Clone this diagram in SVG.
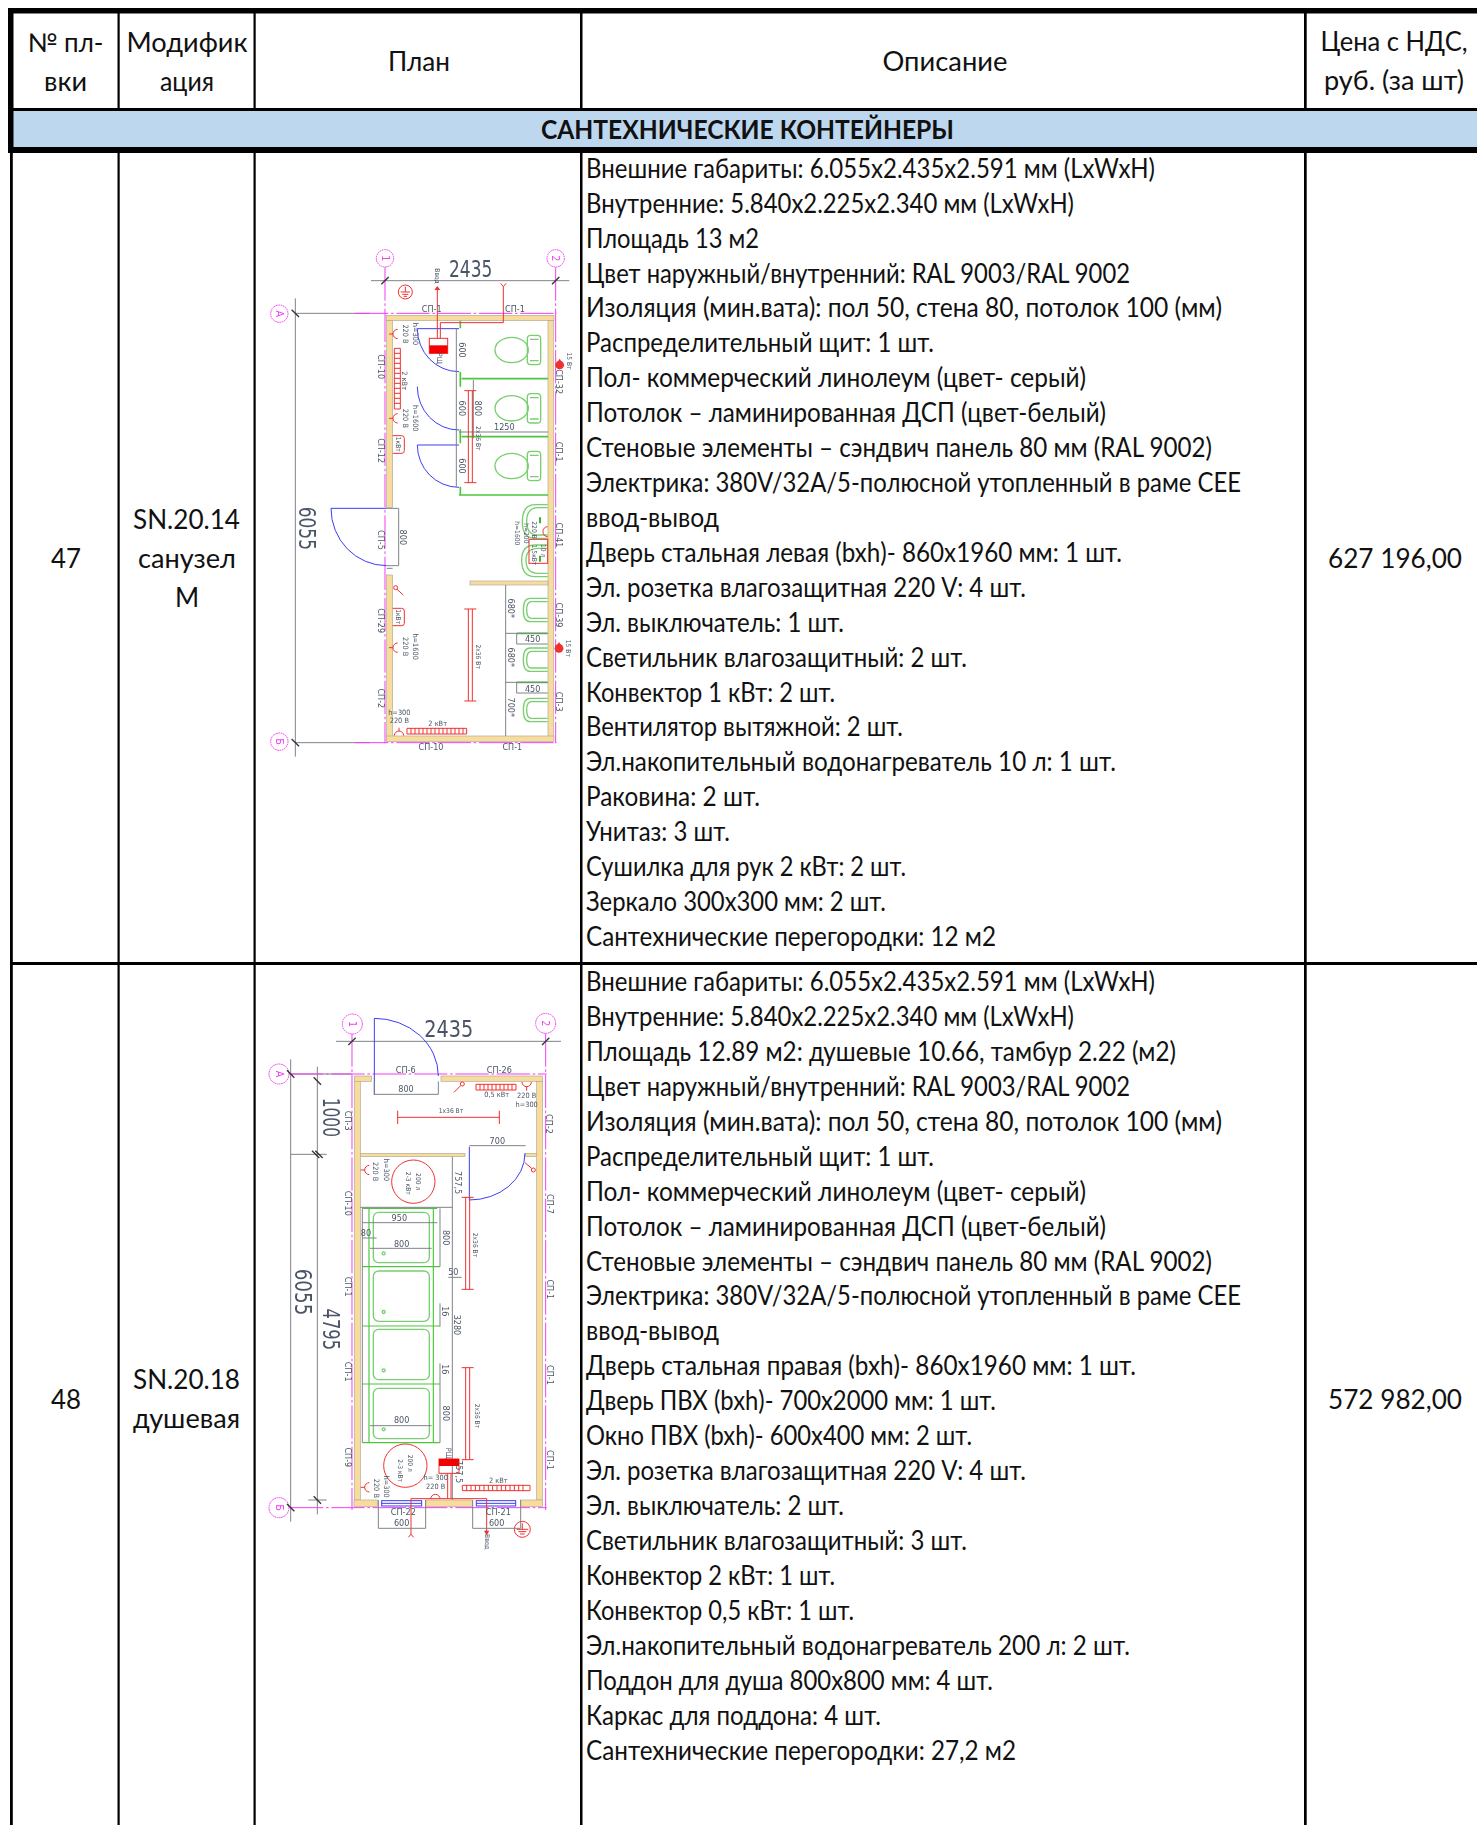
<svg xmlns="http://www.w3.org/2000/svg" xmlns:xlink="http://www.w3.org/1999/xlink" width="1477" height="1825" viewBox="0 0 1477 1825">
<style>
.t{font-family:"Lato","Open Sans","Noto Sans",sans-serif;font-size:26px;fill:#111}
.c{text-anchor:middle}
.b{font-weight:700}
.d{font-family:"DejaVu Sans Condensed","DejaVu Sans",sans-serif;fill:#4a5566;text-anchor:middle;dominant-baseline:central;font-size:27px}
.s{font-size:22px}
.xs{font-size:20px}
.xl{font-size:68px}
.ax{stroke:#f23cf2;stroke-width:3;stroke-dasharray:100 8 8 8;fill:none}
.ci{stroke:#f23cf2;stroke-width:3;stroke-dasharray:5 2;fill:#fff}
.g{stroke:#7f8489;stroke-width:3;fill:none}
.k{stroke:#333;stroke-width:4;fill:none}
.w{fill:#f7dc9d;stroke:#b0aa98;stroke-width:2}
.r{stroke:#f0302f;stroke-width:3;fill:none}
.bl{stroke:#3a3df0;stroke-width:3;fill:none}
.gn{stroke:#4cc63c;stroke-width:5;fill:none}
.gn2{stroke:#4cc63c;stroke-width:3.500;fill:none}
.gl{stroke:#79cf6f;stroke-width:4;fill:none}
.m{font-family:"DejaVu Sans Condensed","DejaVu Sans",sans-serif;fill:#f23cf2;text-anchor:middle;dominant-baseline:central;font-size:32px}
</style>
<defs>
<filter id="soft" x="-5%" y="-5%" width="110%" height="110%"><feGaussianBlur stdDeviation="1.100"/></filter>
<g id="toilet"><ellipse cx="-47" cy="0" rx="50" ry="38" class="gl"/><rect x="0" y="-44" width="40" height="88" rx="10" class="gl"/><path d="M8 -32H34M8 32H34" class="gl"/></g>
<g id="urinal"><path d="M73 -35H20Q0 -35 0 0Q0 35 20 35H73" class="gl"/><path d="M73 -25H25Q10 -25 10 0Q10 25 25 25H73" class="gl"/></g>
<g id="tray"><rect x="0" y="0" width="168" height="151" rx="16" class="gl"/><circle cx="31" cy="123" r="4.500" class="gl"/></g>
<g id="lamp"><path d="M-6 0V276M6 0V276M-18 0H18M-18 276H18" class="r"/></g>
<g id="tick"><path d="M-11 11L11 -11" class="k"/></g>
<g id="sock"><path d="M0 -14A14 14 0 0 1 0 14M14 0H26" class="r"/></g>
<g id="drop"><circle cx="0" cy="3" r="13" fill="#f0302f"/><path d="M-14 6L0 -16L14 6Z" fill="#f0302f"/></g>
</defs>

<g id="table">
<rect x="13" y="111" width="1464" height="36" fill="#bdd7ee"/>
<g fill="#000">
<rect x="8" y="8" width="1469" height="5.500"/>
<rect x="8" y="8" width="5.500" height="145"/>
<rect x="8" y="108" width="1469" height="3"/>
<rect x="8" y="147" width="1469" height="6"/>
<rect x="10" y="153" width="2.800" height="1672"/>
<rect x="117.500" y="13" width="2.200" height="95"/><rect x="117.500" y="153" width="2.200" height="1672"/>
<rect x="253.500" y="13" width="2.200" height="95"/><rect x="253.500" y="153" width="2.200" height="1672"/>
<rect x="580" y="13" width="2.500" height="95"/><rect x="580" y="153" width="2.500" height="1672"/>
<rect x="1304" y="13" width="2.700" height="95"/><rect x="1304" y="153" width="2.700" height="1672"/>
<rect x="10" y="962" width="1467" height="3"/>
</g>
<g class="t">
<text class="c" x="65.500" y="52" textLength="76" lengthAdjust="spacingAndGlyphs">№ пл-</text>
<text class="c" x="65.500" y="91" textLength="43" lengthAdjust="spacingAndGlyphs">вки</text>
<text class="c" x="187" y="52" textLength="121" lengthAdjust="spacingAndGlyphs">Модифик</text>
<text class="c" x="187" y="91" textLength="54" lengthAdjust="spacingAndGlyphs">ация</text>
<text class="c" x="419" y="70.500" textLength="62" lengthAdjust="spacingAndGlyphs">План</text>
<text class="c" x="945" y="70.500" textLength="125" lengthAdjust="spacingAndGlyphs">Описание</text>
<text class="c" x="1394" y="51" textLength="147" lengthAdjust="spacingAndGlyphs">Цена с НДС,</text>
<text class="c" x="1394" y="90" textLength="140" lengthAdjust="spacingAndGlyphs">руб. (за шт)</text>
<text class="c b" x="747.500" y="139" textLength="413" lengthAdjust="spacingAndGlyphs">САНТЕХНИЧЕСКИЕ КОНТЕЙНЕРЫ</text>
<text class="c" x="66" y="567.500" textLength="30" lengthAdjust="spacingAndGlyphs">47</text>
<text class="c" x="186.500" y="528.500" textLength="107" lengthAdjust="spacingAndGlyphs">SN.20.14</text>
<text class="c" x="187" y="567.500" textLength="98" lengthAdjust="spacingAndGlyphs">санузел</text>
<text class="c" x="187" y="606.500">М</text>
<text class="c" x="1395" y="567.500" textLength="134" lengthAdjust="spacingAndGlyphs">627 196,00</text>
<text class="c" x="66" y="1408.500" textLength="30" lengthAdjust="spacingAndGlyphs">48</text>
<text class="c" x="186.500" y="1389" textLength="107" lengthAdjust="spacingAndGlyphs">SN.20.18</text>
<text class="c" x="186.500" y="1428" textLength="107" lengthAdjust="spacingAndGlyphs">душевая</text>
<text class="c" x="1395" y="1408.500" textLength="134" lengthAdjust="spacingAndGlyphs">572 982,00</text>
</g>
<g id="desc47" class="t" transform="translate(-1 1.300)">
<text x="587" y="176.500" textLength="569" lengthAdjust="spacingAndGlyphs">Внешние габариты: 6.055x2.435x2.591 мм (LxWxH)</text>
<text x="587" y="211.400" textLength="488" lengthAdjust="spacingAndGlyphs">Внутренние: 5.840x2.225x2.340 мм (LxWxH)</text>
<text x="587" y="246.300" textLength="173" lengthAdjust="spacingAndGlyphs">Площадь 13 м2</text>
<text x="587" y="281.300" textLength="544" lengthAdjust="spacingAndGlyphs">Цвет наружный/внутренний: RAL 9003/RAL 9002</text>
<text x="587" y="316.200" textLength="636" lengthAdjust="spacingAndGlyphs">Изоляция (мин.вата): пол 50, стена 80, потолок 100 (мм)</text>
<text x="587" y="351.100" textLength="348" lengthAdjust="spacingAndGlyphs">Распределительный щит: 1 шт.</text>
<text x="587" y="386" textLength="500" lengthAdjust="spacingAndGlyphs">Пол- коммерческий линолеум (цвет- серый)</text>
<text x="587" y="421" textLength="520" lengthAdjust="spacingAndGlyphs">Потолок – ламинированная ДСП (цвет-белый)</text>
<text x="587" y="455.900" textLength="626" lengthAdjust="spacingAndGlyphs">Стеновые элементы – сэндвич панель 80 мм (RAL 9002)</text>
<text x="587" y="490.800" textLength="655" lengthAdjust="spacingAndGlyphs">Электрика: 380V/32A/5-полюсной утопленный в раме CEE</text>
<text x="587" y="525.700" textLength="133" lengthAdjust="spacingAndGlyphs">ввод-вывод</text>
<text x="587" y="560.600" textLength="536" lengthAdjust="spacingAndGlyphs">Дверь стальная левая (bxh)- 860x1960 мм: 1 шт.</text>
<text x="587" y="595.500" textLength="440" lengthAdjust="spacingAndGlyphs">Эл. розетка влагозащитная 220 V: 4 шт.</text>
<text x="587" y="630.500" textLength="258" lengthAdjust="spacingAndGlyphs">Эл. выключатель: 1 шт.</text>
<text x="587" y="665.400" textLength="381" lengthAdjust="spacingAndGlyphs">Светильник влагозащитный: 2 шт.</text>
<text x="587" y="700.300" textLength="249" lengthAdjust="spacingAndGlyphs">Конвектор 1 кВт: 2 шт.</text>
<text x="587" y="735.200" textLength="317" lengthAdjust="spacingAndGlyphs">Вентилятор вытяжной: 2 шт.</text>
<text x="587" y="770.100" textLength="530" lengthAdjust="spacingAndGlyphs">Эл.накопительный водонагреватель 10 л: 1 шт.</text>
<text x="587" y="805.100" textLength="174" lengthAdjust="spacingAndGlyphs">Раковина: 2 шт.</text>
<text x="587" y="840" textLength="144" lengthAdjust="spacingAndGlyphs">Унитаз: 3 шт.</text>
<text x="587" y="874.900" textLength="320" lengthAdjust="spacingAndGlyphs">Сушилка для рук 2 кВт: 2 шт.</text>
<text x="587" y="909.800" textLength="300" lengthAdjust="spacingAndGlyphs">Зеркало 300х300 мм: 2 шт.</text>
<text x="587" y="944.700" textLength="410" lengthAdjust="spacingAndGlyphs">Сантехнические перегородки: 12 м2</text>
</g>
<g id="desc48" class="t" transform="translate(-1 1.300)">
<text x="587" y="989.500" textLength="569" lengthAdjust="spacingAndGlyphs">Внешние габариты: 6.055x2.435x2.591 мм (LxWxH)</text>
<text x="587" y="1024.500" textLength="488" lengthAdjust="spacingAndGlyphs">Внутренние: 5.840x2.225x2.340 мм (LxWxH)</text>
<text x="587" y="1059.400" textLength="590" lengthAdjust="spacingAndGlyphs">Площадь 12.89 м2: душевые 10.66, тамбур 2.22 (м2)</text>
<text x="587" y="1094.400" textLength="544" lengthAdjust="spacingAndGlyphs">Цвет наружный/внутренний: RAL 9003/RAL 9002</text>
<text x="587" y="1129.400" textLength="636" lengthAdjust="spacingAndGlyphs">Изоляция (мин.вата): пол 50, стена 80, потолок 100 (мм)</text>
<text x="587" y="1164.400" textLength="348" lengthAdjust="spacingAndGlyphs">Распределительный щит: 1 шт.</text>
<text x="587" y="1199.300" textLength="500" lengthAdjust="spacingAndGlyphs">Пол- коммерческий линолеум (цвет- серый)</text>
<text x="587" y="1234.300" textLength="520" lengthAdjust="spacingAndGlyphs">Потолок – ламинированная ДСП (цвет-белый)</text>
<text x="587" y="1269.300" textLength="626" lengthAdjust="spacingAndGlyphs">Стеновые элементы – сэндвич панель 80 мм (RAL 9002)</text>
<text x="587" y="1304.200" textLength="655" lengthAdjust="spacingAndGlyphs">Электрика: 380V/32A/5-полюсной утопленный в раме CEE</text>
<text x="587" y="1339.200" textLength="133" lengthAdjust="spacingAndGlyphs">ввод-вывод</text>
<text x="587" y="1374.200" textLength="550" lengthAdjust="spacingAndGlyphs">Дверь стальная правая (bxh)- 860x1960 мм: 1 шт.</text>
<text x="587" y="1409.100" textLength="410" lengthAdjust="spacingAndGlyphs">Дверь ПВХ (bxh)- 700x2000 мм: 1 шт.</text>
<text x="587" y="1444.100" textLength="386" lengthAdjust="spacingAndGlyphs">Окно ПВХ (bxh)- 600x400 мм: 2 шт.</text>
<text x="587" y="1479.100" textLength="440" lengthAdjust="spacingAndGlyphs">Эл. розетка влагозащитная 220 V: 4 шт.</text>
<text x="587" y="1514" textLength="258" lengthAdjust="spacingAndGlyphs">Эл. выключатель: 2 шт.</text>
<text x="587" y="1549" textLength="381" lengthAdjust="spacingAndGlyphs">Светильник влагозащитный: 3 шт.</text>
<text x="587" y="1584" textLength="249" lengthAdjust="spacingAndGlyphs">Конвектор 2 кВт: 1 шт.</text>
<text x="587" y="1619" textLength="268" lengthAdjust="spacingAndGlyphs">Конвектор 0,5 кВт: 1 шт.</text>
<text x="587" y="1653.900" textLength="544" lengthAdjust="spacingAndGlyphs">Эл.накопительный водонагреватель 200 л: 2 шт.</text>
<text x="587" y="1688.900" textLength="407" lengthAdjust="spacingAndGlyphs">Поддон для душа 800х800 мм: 4 шт.</text>
<text x="587" y="1723.900" textLength="295" lengthAdjust="spacingAndGlyphs">Каркас для поддона: 4 шт.</text>
<text x="587" y="1758.800" textLength="430" lengthAdjust="spacingAndGlyphs">Сантехнические перегородки: 27,2 м2</text>
</g>
</g>

<g id="plan47" transform="translate(255 230) scale(.33333)" filter="url(#soft)">
<path class="g" d="M348 152H943M121 205V1580M121 250H345M121 1538H345"/>
<path class="ax" d="M390 112V1540M902 112V1540M300 250H905M300 1538H905"/>
<circle class="ci" cx="390" cy="85" r="26"/><circle class="ci" cx="902" cy="85" r="26"/><circle class="ci" cx="73" cy="251" r="26"/><circle class="ci" cx="73" cy="1535" r="26"/>
<text class="m" transform="rotate(90 390 85)" x="390" y="85">1</text><text class="m" transform="rotate(90 902 85)" x="902" y="85">2</text><text class="m" transform="rotate(90 73 251)" x="73" y="251">А</text><text class="m" transform="rotate(90 73 1535)" x="73" y="1535">Б</text>
<use xlink:href="#tick" x="390" y="152"/><use xlink:href="#tick" x="902" y="152"/><use xlink:href="#tick" transform="translate(121 250) rotate(90)"/><use xlink:href="#tick" transform="translate(121 1538) rotate(90)"/>
<text class="d xl" x="647" y="116" textLength="130" lengthAdjust="spacingAndGlyphs">2435</text>
<text class="d xl" transform="rotate(90 155 895)" x="155" y="895" textLength="130" lengthAdjust="spacingAndGlyphs">6055</text>
<g id="walls47">
<rect class="w" x="394" y="256" width="503" height="16"/>
<rect class="w" x="395" y="272" width="18" height="560"/>
<rect class="w" x="395" y="1035" width="18" height="484"/>
<rect class="w" x="879" y="272" width="16" height="1247"/>
<rect class="w" x="394" y="1518" width="503" height="16"/>
<rect class="w" x="645" y="1053" width="234" height="12"/>
<path class="g" d="M395 835H431V1007H395M395 1015H413"/>
</g>
<path class="gn" d="M620 446H879M620 620H879M612 795H879M616 272V295M616 425V470M616 598V640M616 770V795M785 1210H878M785 1357H878"/>
<path class="bl" d="M487 296H612M487 296A125 129 0 0 0 612 425M487 470A125 130 0 0 0 612 600M487 645H612M487 645A125 127 0 0 0 612 772M228 835H395M228 835A167 172 0 0 0 395 1007"/>
<path class="g" d="M604 296V770M655 450V625M612 606H879M752 1065V1518M752 1210H878M752 1357H878M785 1210V1242H878M785 1357V1389H878"/>
<g id="fix47">
<use xlink:href="#toilet" x="817" y="360"/><use xlink:href="#toilet" x="817" y="535"/><use xlink:href="#toilet" x="817" y="708"/>
<use xlink:href="#urinal" x="805" y="1140"/><use xlink:href="#urinal" x="805" y="1289"/><use xlink:href="#urinal" x="805" y="1440"/>
<path class="gl" d="M878 824H840Q802 824 802 875Q802 925 840 925H878M878 833H850Q815 833 815 875Q815 915 850 915H878M878 945H840Q800 945 800 990Q800 1040 840 1040H878M878 955H850Q813 955 813 990Q813 1030 850 1030H878"/>
<path stroke="#3ab52e" stroke-width="6" d="M855 880V862M855 995V977" fill="none"/>
</g>
<g id="el47">
<path class="r" d="M547 172V325M556 325V278H745V170M737 160L745 170L753 160"/>
<path d="M538 180L547 168L556 180Z" fill="#f0302f"/>
<rect x="523" y="325" width="55" height="45" fill="#fff" class="r"/><rect x="523" y="346" width="55" height="24" fill="#f40000"/>
<circle class="r" cx="451" cy="186" r="21"/><path class="r" d="M451 170V186M437 186H465M442 193H460M446 199H456"/>
<use xlink:href="#sock" transform="translate(428 312) rotate(180)"/><use xlink:href="#sock" transform="translate(428 565) rotate(180)"/><use xlink:href="#sock" transform="translate(428 1253) rotate(180)"/>
<path class="r" d="M418 355H436V537H418ZM418 370H436M418 385H436M418 400H436M418 415H436M418 430H436M418 445H436M418 460H436M418 475H436M418 490H436M418 505H436M418 520H436"/>
<path class="r" d="M413 617H440Q448 617 448 625V662Q448 670 440 670H413M413 1135H440Q448 1135 448 1143V1180Q448 1187 440 1187H413"/>
<circle class="r" cx="422" cy="1073" r="6"/><path class="r" d="M426 1078L445 1095"/>
<use xlink:href="#lamp" x="646" y="482"/><use xlink:href="#lamp" x="646" y="1137"/>
<path class="r" d="M456 1495H635V1512H456ZM468 1495V1512M480 1495V1512M492 1495V1512M504 1495V1512M516 1495V1512M528 1495V1512M540 1495V1512M552 1495V1512M564 1495V1512M576 1495V1512M588 1495V1512M600 1495V1512M612 1495V1512M624 1495V1512"/>
<path class="r" d="M418 1517A14 14 0 0 1 446 1517M432 1503V1493"/>
<rect class="r" x="822" y="928" width="56" height="72"/>
<path class="r" d="M878 890A14 14 0 0 0 864 905A14 14 0 0 0 878 920"/>
<use xlink:href="#drop" x="914" y="402"/><use xlink:href="#drop" x="912" y="1252"/>
</g>
<g id="lab47">
<text class="d xs" transform="rotate(90 546 138)" x="546" y="138">Ввод</text>
<text class="d s" transform="rotate(90 552 385)" x="552" y="385">РЩ</text>
<text class="d s" transform="rotate(90 480 312)" x="480" y="312">h=300</text><text class="d s" transform="rotate(90 452 312)" x="452" y="312">220 В</text>
<text class="d s" transform="rotate(90 447 452)" x="447" y="452">2 кВт</text>
<text class="d s" transform="rotate(90 480 565)" x="480" y="565">h=1600</text><text class="d s" transform="rotate(90 452 565)" x="452" y="565">220 В</text>
<text class="d xs" transform="rotate(90 428 643)" x="428" y="643">1кВт</text>
<text class="d" transform="rotate(90 620 360)" x="620" y="360">600</text><text class="d" transform="rotate(90 620 535)" x="620" y="535">600</text><text class="d" transform="rotate(90 620 708)" x="620" y="708">600</text>
<text class="d" transform="rotate(90 670 535)" x="670" y="535">800</text>
<text class="d xs" transform="rotate(90 668 625)" x="668" y="625">2х36 Вт</text>
<text class="d" x="748" y="592">1250</text>
<text class="d xs" transform="rotate(90 942 393)" x="942" y="393">15 Вт</text>
<text class="d" x="530" y="238">СП-1</text><text class="d" x="780" y="238">СП-1</text>
<text class="d" transform="rotate(90 378 410)" x="378" y="410">СП-10</text><text class="d" transform="rotate(90 378 662)" x="378" y="662">СП-12</text>
<text class="d" transform="rotate(90 912 455)" x="912" y="455">СП-32</text><text class="d" transform="rotate(90 912 665)" x="912" y="665">СП-1</text>
<text class="d" transform="rotate(90 378 930)" x="378" y="930">СП-5</text><text class="d" transform="rotate(90 378 1172)" x="378" y="1172">СП-29</text><text class="d" transform="rotate(90 378 1405)" x="378" y="1405">СП-2</text>
<text class="d" transform="rotate(90 912 915)" x="912" y="915">СП-41</text><text class="d" transform="rotate(90 912 1155)" x="912" y="1155">СП-39</text><text class="d" transform="rotate(90 912 1415)" x="912" y="1415">СП-3</text>
<text class="d" x="528" y="1552">СП-10</text><text class="d" x="772" y="1552">СП-1</text>
<text class="d" transform="rotate(90 445 922)" x="445" y="922">800</text>
<text class="d s" transform="rotate(90 480 1250)" x="480" y="1250">h=1600</text><text class="d s" transform="rotate(90 452 1250)" x="452" y="1250">220 В</text>
<text class="d xs" transform="rotate(90 428 1160)" x="428" y="1160">1кВт</text>
<text class="d xs" transform="rotate(90 668 1280)" x="668" y="1280">2х36 Вт</text>
<text class="d s" x="433" y="1448">h=300</text><text class="d s" x="433" y="1473">220 В</text>
<text class="d s" x="548" y="1482">2 кВт</text>
<text class="d" transform="rotate(90 768 1135)" x="768" y="1135">680*</text><text class="d" transform="rotate(90 768 1282)" x="768" y="1282">680*</text><text class="d" transform="rotate(90 768 1432)" x="768" y="1432">700*</text>
<text class="d" x="833" y="1226">450</text><text class="d" x="833" y="1376">450</text>
<text class="d xs" transform="rotate(90 940 1255)" x="940" y="1255">15 Вт</text>
<text class="d xs" transform="rotate(90 785 910)" x="785" y="910">h=1600</text><text class="d xs" transform="rotate(90 812 910)" x="812" y="910">h=200</text><text class="d xs" transform="rotate(90 838 900)" x="838" y="900">220 В</text>
<text class="d xs" transform="rotate(90 865 962)" x="865" y="962">10 л</text><text class="d xs" transform="rotate(90 838 975)" x="838" y="975">1,5кВт</text>
</g>
</g>

<g id="plan48" transform="translate(255 1000) scale(.33333)" filter="url(#soft)">
<path class="g" d="M243 124H918M107 178V1565M187 200V1543M107 222H290M107 463H215M160 1500H215"/>
<path class="ax" d="M291 100V1530M872 100V1530M105 222H875M105 1523H875"/>
<circle class="ci" cx="292" cy="72" r="30"/><circle class="ci" cx="872" cy="70" r="30"/><circle class="ci" cx="72" cy="222" r="30"/><circle class="ci" cx="72" cy="1523" r="30"/>
<text class="m" transform="rotate(90 292 72)" x="292" y="72">1</text><text class="m" transform="rotate(90 872 70)" x="872" y="70">2</text><text class="m" transform="rotate(90 72 222)" x="72" y="222">А</text><text class="m" transform="rotate(90 72 1523)" x="72" y="1523">Б</text>
<use xlink:href="#tick" x="291" y="124"/><use xlink:href="#tick" x="872" y="124"/><use xlink:href="#tick" transform="translate(107 222) rotate(90)"/><use xlink:href="#tick" transform="translate(107 1523) rotate(90)"/><use xlink:href="#tick" transform="translate(187 243) rotate(90)"/><use xlink:href="#tick" transform="translate(187 1500) rotate(90)"/><use xlink:href="#tick" transform="translate(182 463) rotate(90)"/><use xlink:href="#tick" transform="translate(192 463) rotate(90)"/>
<text class="d xl" x="581" y="88" textLength="147" lengthAdjust="spacingAndGlyphs">2435</text>
<text class="d xl" transform="rotate(90 145 876)" x="145" y="876" textLength="140" lengthAdjust="spacingAndGlyphs">6055</text>
<text class="d xl" transform="rotate(90 228 352)" x="228" y="352" textLength="118" lengthAdjust="spacingAndGlyphs">1000</text>
<text class="d xl" transform="rotate(90 228 988)" x="228" y="988" textLength="125" lengthAdjust="spacingAndGlyphs">4795</text>
<g id="walls48">
<rect class="w" x="298" y="228" width="52" height="16"/><rect class="w" x="558" y="228" width="305" height="16"/>
<rect class="w" x="298" y="244" width="18" height="1256"/><rect class="w" x="845" y="244" width="18" height="1256"/>
<rect class="w" x="297" y="1500" width="71" height="20"/><rect class="w" x="512" y="1500" width="140" height="20"/><rect class="w" x="796" y="1500" width="67" height="20"/>
<rect class="w" x="316" y="460" width="314" height="10"/><rect class="w" x="810" y="460" width="35" height="10"/>
<rect class="bl" x="380" y="1502" width="120" height="16"/><rect class="bl" x="664" y="1502" width="118" height="16"/>
<path class="bl" d="M380 1510H500M664 1510H782"/>
</g>
<path class="gn2" d="M322 625H547M322 800H555M322 978H555M322 1152H555M322 1328H555M342 625V1328M535 625V1328"/>
<path class="g" d="M322 625V1328"/>
<use xlink:href="#tray" x="355" y="637"/><use xlink:href="#tray" x="355" y="813"/><use xlink:href="#tray" x="355" y="988"/><use xlink:href="#tray" x="355" y="1165"/>
<path class="bl" d="M358 55V285M358 55A192 173 0 0 1 550 228M643 440V600M643 600A167 140 0 0 0 810 460"/>
<path class="g" d="M358 244V283H550V244M643 437H812M592 470V1500M316 622H592M555 625V800M322 668H547M345 745H530M322 714H365M555 910V980M555 1090V1328M345 1277H530M580 832H620"/>
<g id="el48">
<circle class="r" cx="622" cy="252" r="6"/><path class="r" d="M617 257L597 277"/>
<path class="r" d="M663 253H783V270H663ZM675 253V270M687 253V270M699 253V270M711 253V270M723 253V270M735 253V270M747 253V270M759 253V270M771 253V270"/>
<path class="r" d="M801 246A14 14 0 0 0 829 246M815 260V272"/>
<path class="r" d="M428 332V372M733 332V372M428 352H733"/>
<circle class="r" cx="835" cy="510" r="6"/><path class="r" d="M830 505L810 488"/>
<use xlink:href="#sock" transform="translate(343 510) rotate(180)"/>
<circle class="r" cx="475" cy="545" r="65"/><circle class="r" cx="451" cy="1397" r="65"/>
<use xlink:href="#lamp" x="638" y="592"/><use xlink:href="#lamp" x="638" y="1103"/>
<use xlink:href="#sock" transform="translate(343 1462) rotate(180)"/>
<rect x="552" y="1377" width="60" height="43" fill="#fff" class="r"/><rect x="552" y="1377" width="60" height="21" fill="#f40000"/>
<path class="r" d="M527 1497A14 14 0 0 1 555 1497M578 1420V1496M588 1420V1496M468 1496H695M468 1496V1605M460 1612L468 1603L476 1612M695 1496V1600"/>
<path d="M687 1592L695 1606L703 1592Z" fill="#f0302f"/>
<path class="r" d="M622 1456H825V1472H622ZM635 1456V1472M648 1456V1472M661 1456V1472M674 1456V1472M687 1456V1472M700 1456V1472M713 1456V1472M726 1456V1472M739 1456V1472M752 1456V1472M765 1456V1472M778 1456V1472M791 1456V1472M804 1456V1472"/>
<circle class="r" cx="802" cy="1588" r="24"/><path class="r" d="M785 1588H820M802 1588V1570M790 1595H814M795 1602H809"/>
</g>
<path class="g" d="M370 1500V1585H512V1500M653 1500V1585H797V1500"/>
<g id="lab48">
<text class="d" x="452" y="210">СП-6</text><text class="d" x="733" y="210">СП-26</text>
<text class="d" transform="rotate(90 278 362)" x="278" y="362">СП-3</text><text class="d" transform="rotate(90 882 372)" x="882" y="372">СП-2</text>
<text class="d" transform="rotate(90 278 610)" x="278" y="610">СП-10</text><text class="d" transform="rotate(90 885 612)" x="885" y="612">СП-7</text>
<text class="d" transform="rotate(90 278 860)" x="278" y="860">СП-1</text><text class="d" transform="rotate(90 278 1115)" x="278" y="1115">СП-1</text><text class="d" transform="rotate(90 278 1372)" x="278" y="1372">СП-9</text>
<text class="d" transform="rotate(90 885 868)" x="885" y="868">СП-1</text><text class="d" transform="rotate(90 885 1125)" x="885" y="1125">СП-1</text><text class="d" transform="rotate(90 885 1380)" x="885" y="1380">СП-1</text>
<text class="d" x="453" y="267">800</text>
<text class="d s" x="725" y="285">0,5 кВт</text><text class="d s" x="815" y="288">220 В</text><text class="d s" x="815" y="313">h=300</text>
<text class="d xs" x="588" y="333">1х36 Вт</text>
<text class="d" x="727" y="423">700</text>
<text class="d" transform="rotate(90 610 548)" x="610" y="548">757,5</text>
<text class="d s" transform="rotate(90 393 510)" x="393" y="510">h=300</text><text class="d s" transform="rotate(90 360 515)" x="360" y="515">220 В</text>
<text class="d xs" transform="rotate(90 488 545)" x="488" y="545">200 л</text><text class="d xs" transform="rotate(90 458 550)" x="458" y="550">2-3 кВт</text>
<text class="d xs" transform="rotate(90 660 735)" x="660" y="735">2х36 Вт</text><text class="d xs" transform="rotate(90 665 1248)" x="665" y="1248">2х36 Вт</text>
<text class="d" x="433" y="653">950</text><text class="d" x="440" y="732">800</text><text class="d" x="333" y="700">80</text>
<text class="d" transform="rotate(90 572 713)" x="572" y="713">800</text><text class="d" x="595" y="817">50</text>
<text class="d" transform="rotate(90 570 934)" x="570" y="934">16</text><text class="d" transform="rotate(90 607 975)" x="607" y="975">3280</text><text class="d" transform="rotate(90 570 1108)" x="570" y="1108">16</text>
<text class="d" transform="rotate(90 572 1240)" x="572" y="1240">800</text><text class="d" x="440" y="1260">800</text>
<text class="d xs" transform="rotate(90 464 1390)" x="464" y="1390">200 л</text><text class="d xs" transform="rotate(90 434 1412)" x="434" y="1412">2-3 кВт</text>
<text class="d s" transform="rotate(90 395 1460)" x="395" y="1460">h=300</text><text class="d s" transform="rotate(90 365 1465)" x="365" y="1465">220 В</text>
<text class="d s" x="542" y="1432">h= 300</text><text class="d s" x="542" y="1460">220 В</text>
<text class="d s" transform="rotate(90 582 1360)" x="582" y="1360">РЩ</text><text class="d" transform="rotate(90 612 1415)" x="612" y="1415">757,5</text>
<text class="d s" x="730" y="1442">2 кВт</text>
<text class="d" x="445" y="1537">СП-22</text><text class="d" x="440" y="1570">600</text><text class="d" x="730" y="1537">СП-21</text><text class="d" x="725" y="1570">600</text>
<text class="d xs" transform="rotate(90 695 1625)" x="695" y="1625">Ввод</text>
</g>
</g>
</svg>
